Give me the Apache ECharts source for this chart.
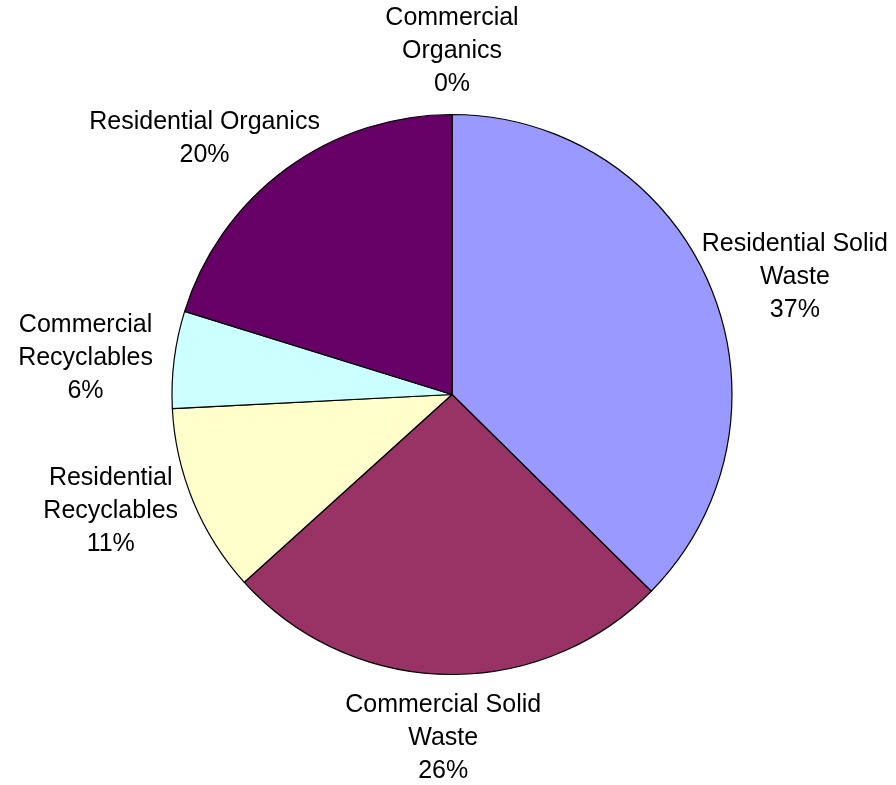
<!DOCTYPE html>
<html>
<head>
<meta charset="utf-8">
<style>
  html, body { margin: 0; padding: 0; background: #fff; }
  #chart { width: 896px; height: 785px; }
</style>
<script src="https://cdn.jsdelivr.net/npm/echarts@6/dist/echarts.min.js"></script>
</head>
<body>
<div id="chart"></div>
<script>
// slices, clockwise from 12 o'clock
var categories = ['Residential Solid Waste', 'Commercial Solid Waste', 'Residential Recyclables',
  'Commercial Recyclables', 'Residential Organics', 'Commercial Organics']
var labelTexts = ['Residential Solid\nWaste', 'Commercial Solid\nWaste', 'Residential\nRecyclables',
  'Commercial\nRecyclables', 'Residential Organics', 'Commercial\nOrganics']
var values = [37.4, 25.9, 10.9, 5.6, 20.2, 0]
var colors = ['#9999FF', '#993366', '#FFFFCC', '#CCFFFF', '#660066', '#0066CC']

var W = 896
var CX = 452, CY = 394.5, R = 280
var total = values.reduce(function (a, b) { return a + b }, 0)

var chart = echarts.init(document.getElementById('chart'))

chart.setOption({
  animation: false,
  color: colors,
  series: [{
    type: 'pie',
    center: [CX, CY],
    radius: R,
    startAngle: 90,
    clockwise: true,
    avoidLabelOverlap: false,
    itemStyle: {
      borderColor: '#000',
      borderWidth: 1.2
    },
    label: {
      show: true,
      position: 'outside',
      fontFamily: 'Liberation Sans, Arial, sans-serif',
      fontSize: 25,
      lineHeight: 33,
      color: '#000',
      align: 'center',
      formatter: function (p) {
        return labelTexts[p.dataIndex] + '\n' + Math.round(p.value / total * 100) + '%'
      }
    },
    labelLine: { show: false },
    emphasis: { disabled: true },
    // put each label just outside the rim, along the slice's middle, kept inside the page
    labelLayout: function (params) {
      var i = params.dataIndex
      var before = 0
      for (var k = 0; k < i; k++) before += values[k]
      var mid = (before + values[i] / 2) / total * Math.PI * 2
      var ux = Math.sin(mid), uy = -Math.cos(mid)
      var w = params.labelRect.width, h = params.labelRect.height
      var x = CX + ux * R + ux * (w / 2 + 22)
      x = Math.max(w / 2 + 8, Math.min(W - w / 2 - 8, x))
      return {
        x: x,
        y: CY + uy * R + uy * Math.abs(uy) * (h / 2 + 14),
        align: 'center',
        verticalAlign: 'middle'
      }
    },
    data: categories.map(function (name, i) {
      return { name: name, value: values[i] }
    })
  }]
})
</script>
</body>
</html>
